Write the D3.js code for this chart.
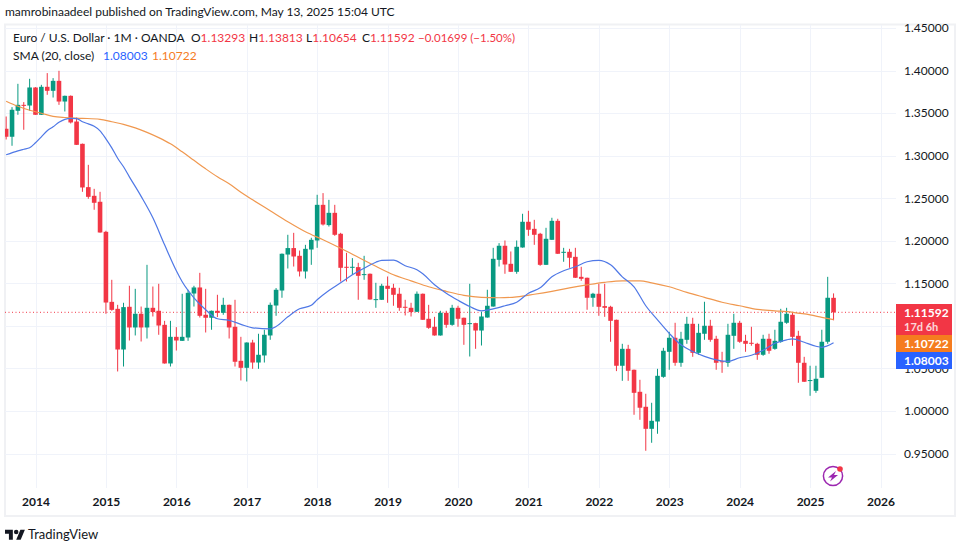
<!DOCTYPE html>
<html><head><meta charset="utf-8">
<script src="https://cdn.jsdelivr.net/npm/d3@7/dist/d3.min.js"></script>
<style>
html,body{margin:0;padding:0;background:#fff}
svg{display:block}
text{font-family:"Lato","Noto Sans",sans-serif}
</style></head><body><svg id="c" width="962" height="545"></svg>
<script>
// Monthly candles, Aug 2013 .. May 2025
const firstMonthOffset = -5; // months from Jan 2014
const opens = [1.3316,1.3222,1.3527,1.3597,1.3589,
1.3801,1.3480,1.3809,1.3762,1.3879,1.3636,1.3703,1.3401,1.3139,1.2630,1.2528,1.2458,
1.2105,1.1282,1.1200,1.0722,1.1224,1.0981,1.1142,1.0981,1.1212,1.1177,1.1012,1.0558,
1.0871,1.0824,1.0863,1.1380,1.1451,1.1130,1.1095,1.1177,1.1153,1.1247,1.0989,1.0589,
1.0507,1.0804,1.0569,1.0652,1.0887,1.1239,1.1415,1.1838,1.1914,1.1823,1.1639,1.1897,
1.2003,1.2422,1.2184,1.2328,1.2082,1.1694,1.1687,1.1690,1.1600,1.1612,1.1306,1.1306,
1.1471,1.1447,1.1377,1.1224,1.1212,1.1165,1.1377,1.1083,1.0989,1.0887,1.1153,1.1012,
1.1212,1.1095,1.1024,1.1032,1.0945,1.1098,1.1227,1.1776,1.1941,1.1729,1.1635,1.1921,
1.2223,1.2140,1.2082,1.1717,1.2011,1.2234,1.1858,1.1870,1.1811,1.1576,1.1565,1.1330,
1.1377,1.1232,1.1224,1.1071,1.0531,1.0730,1.0484,1.0225,1.0049,0.9790,0.9876,1.0401,
1.0695,1.0860,1.0566,1.0836,1.1024,1.0683,1.0907,1.1001,1.0848,1.0584,1.0566,1.0883,
1.1036,1.0824,1.0801,1.0789,1.0660,1.0848,1.0730,1.0813,1.1036,1.1130,1.0883,1.0566,
1.0354,1.0237,1.0390,1.0813,1.13293];
const highs = [1.3460,1.3570,1.3844,1.3629,1.3903,
1.3805,1.3832,1.3970,1.3911,1.3997,1.3705,1.3708,1.3448,1.3142,1.2892,1.2610,1.2575,
1.2117,1.1541,1.1247,1.1271,1.1471,1.1435,1.1227,1.1717,1.1462,1.1494,1.1059,1.1059,
1.0985,1.1377,1.1424,1.1471,1.1623,1.1435,1.1180,1.1365,1.1330,1.1250,1.1306,1.0871,
1.0806,1.0836,1.0907,1.0954,1.1274,1.1444,1.1850,1.2070,1.2093,1.1885,1.1952,1.2035,
1.2540,1.2560,1.2481,1.2422,1.2093,1.1858,1.1796,1.1741,1.1823,1.1615,1.1506,1.1494,
1.1580,1.1494,1.1447,1.1306,1.1271,1.1404,1.1380,1.1247,1.1106,1.1177,1.1177,1.1247,
1.1236,1.1097,1.1494,1.1036,1.1165,1.1424,1.1917,1.1972,1.2003,1.1874,1.2003,1.2317,
1.2352,1.2246,1.2093,1.2152,1.2270,1.2258,1.1917,1.1905,1.1917,1.1694,1.1567,1.1388,
1.1494,1.1494,1.1236,1.1073,1.0789,1.0777,1.0486,1.0366,1.0202,1.0096,1.0495,1.0742,
1.0930,1.1036,1.0930,1.1106,1.1095,1.1024,1.1283,1.1071,1.0883,1.0695,1.1024,1.1142,
1.1059,1.0895,1.0989,1.0801,1.0895,1.0907,1.0954,1.1200,1.1212,1.1165,1.0942,1.0636,
1.0531,1.0531,1.0954,1.1576,1.13813];
const lows = [1.3190,1.3116,1.3480,1.3304,1.3527,
1.3480,1.3478,1.3715,1.3683,1.3597,1.3519,1.3378,1.3125,1.2575,1.2493,1.2364,1.2095,
1.1142,1.1177,1.0464,1.0522,1.0828,1.0887,1.0816,1.0851,1.1110,1.0895,1.0556,1.0522,
1.0710,1.0822,1.0824,1.1227,1.1098,1.0922,1.0954,1.1103,1.1130,1.0851,1.0522,1.0358,
1.0346,1.0495,1.0495,1.0569,1.0836,1.1118,1.1330,1.1674,1.1697,1.1580,1.1556,1.1717,
1.1917,1.2179,1.2167,1.2058,1.1521,1.1521,1.1600,1.1306,1.1541,1.1308,1.1212,1.1304,
1.1271,1.1236,1.1177,1.1122,1.1110,1.1163,1.1069,1.0965,1.0885,1.0885,1.0977,1.1001,
1.0989,1.0777,1.0640,1.0730,1.0769,1.1096,1.1225,1.1697,1.1612,1.1633,1.1612,1.1919,
1.2058,1.1952,1.1706,1.1715,1.2009,1.1845,1.1753,1.1682,1.1563,1.1529,1.1189,1.1224,
1.1118,1.1106,1.0813,1.0468,1.0354,1.0354,0.9955,0.9896,0.9532,0.9626,0.9732,1.0390,
1.0484,1.0531,1.0519,1.0789,1.0636,1.0660,1.0836,1.0813,1.0484,1.0448,1.0519,1.0730,
1.0801,1.0695,1.0766,1.0601,1.0648,1.0672,1.0719,1.0801,1.1024,1.0766,1.0331,1.0341,
1.0178,1.0213,1.0388,1.0789,1.10654];
const closes = [1.3222,1.3539,1.3597,1.3590,1.3801,
1.3480,1.3809,1.3762,1.3879,1.3636,1.3703,1.3390,1.3127,1.2626,1.2516,1.2446,1.2097,
1.1274,1.1188,1.0722,1.1220,1.0981,1.1142,1.0981,1.1212,1.1162,1.1004,1.0558,1.0871,
1.0828,1.0871,1.1388,1.1451,1.1118,1.1095,1.1177,1.1153,1.1247,1.0981,1.0578,1.0507,
1.0804,1.0569,1.0660,1.0895,1.1247,1.1424,1.1847,1.1914,1.1815,1.1639,1.1905,1.2011,
1.2422,1.2191,1.2328,1.2070,1.1682,1.1686,1.1694,1.1588,1.1608,1.1310,1.1314,1.1471,
1.1435,1.1365,1.1212,1.1218,1.1162,1.1377,1.1071,1.0977,1.0887,1.1153,1.1012,1.1212,
1.1083,1.1012,1.1032,1.0945,1.1110,1.1236,1.1788,1.1941,1.1721,1.1635,1.1929,1.2223,
1.2129,1.2070,1.1717,1.2023,1.2234,1.1847,1.1870,1.1800,1.1565,1.1553,1.1330,1.1377,
1.1224,1.1212,1.1059,1.0531,1.0730,1.0472,1.0213,1.0038,0.9790,0.9884,1.0413,1.0707,
1.0860,1.0566,1.0848,1.1024,1.0683,1.0918,1.1001,1.0836,1.0566,1.0572,1.0895,1.1036,
1.0813,1.0789,1.0789,1.0660,1.0848,1.0707,1.0824,1.1048,1.1142,1.0871,1.0566,1.0343,
1.0363,1.0378,1.0813,1.1330,1.11592];

// SMA readings: month offset from Jan 2014 and value
const blueMonths = [-5,-3,-2,-1,0,1,2,3,4,5,6,7,8,9,10,11,12,13,14,15,16,18,20,22,24,25,27,29,31,33,35,37,40,41,43,45,47,48,50,52,54,56,58,59,61,63,65,66,68,70,72,74,76,78,80,82,84,86,88,90,92,94,96,98,100,102,104,106,108,110,112,114,116,118,120,122,124,126,128,129,131,133,134,136];
const blueValues = [1.3010,1.3057,1.3075,1.3092,1.3151,1.3221,1.3292,1.3339,1.3392,1.3427,1.3439,1.3436,1.3398,1.3374,1.3345,1.3292,1.3198,1.3092,1.2969,1.2869,1.2751,1.2522,1.2270,1.1952,1.1647,1.1518,1.1330,1.1189,1.1083,1.1065,1.1018,1.0977,1.0965,1.0992,1.1106,1.1200,1.1241,1.1306,1.1415,1.1506,1.1600,1.1676,1.1747,1.1770,1.1773,1.1706,1.1659,1.1612,1.1482,1.1382,1.1300,1.1227,1.1177,1.1200,1.1236,1.1277,1.1382,1.1447,1.1576,1.1647,1.1694,1.1753,1.1770,1.1717,1.1576,1.1459,1.1236,1.1071,1.0912,1.0777,1.0699,1.0642,1.0601,1.0583,1.0625,1.0654,1.0713,1.0795,1.0836,1.0848,1.0807,1.0760,1.0748,1.08003];
const orangeMonths = [-5,-3,-1,1,3,5,8,11,13,15,17,19,21,23,25,27,29,31,33,35,37,40,43,46,49,52,55,58,61,64,67,70,73,76,79,82,85,88,91,94,97,100,103,105,108,111,114,117,120,123,126,129,132,134,136];
const orangeValues = [1.3639,1.3580,1.3533,1.3498,1.3462,1.3448,1.3439,1.3427,1.3398,1.3368,1.3327,1.3274,1.3212,1.3139,1.3045,1.2945,1.2845,1.2751,1.2669,1.2569,1.2481,1.2352,1.2223,1.2105,1.2011,1.1911,1.1806,1.1700,1.1600,1.1529,1.1459,1.1406,1.1359,1.1335,1.1330,1.1341,1.1371,1.1406,1.1447,1.1482,1.1512,1.1529,1.1529,1.1506,1.1459,1.1394,1.1335,1.1277,1.1236,1.1194,1.1177,1.1159,1.1130,1.1100,1.10722];

const yearLabels = [2014,2015,2016,2017,2018,2019,2020,2021,2022,2023,2024,2025,2026];
const priceTicks = [0.95,1.00,1.05,1.10,1.15,1.20,1.25,1.30,1.35,1.40,1.45];
const hiddenPriceLabels = [1.10]; // covered by the price badges
const lastPrice = 1.11592, smaSlow = 1.10722, smaFast = 1.08003;
const ohlcLabels = ["O","H","L","C"];
const ohlcTexts = ["1.13293","1.13813","1.10654","1.11592"];
const changeText = "−0.01699 (−1.50%)";

const RED="#f23645", GREEN="#089981", BLUE="#2962ff", ORANGE="#f57c1f", INK="#131722";
const FONT='"Lato","Noto Sans",sans-serif';
const svg = d3.select("#c");
const x = d3.scaleLinear().domain([0,144]).range([35.5,880.5]);
const y = d3.scaleLinear().domain([0.95,1.45]).range([453.5,28]);
const L=5,R=896,T=25,B=488;

// frame
svg.append("rect").attr("x",5).attr("y",24.5).attr("width",950).attr("height",491.5)
  .attr("fill","#fff").attr("stroke","#f0f1f4").attr("stroke-width",2);

// grid
const grid = svg.append("g");
grid.selectAll("line.h").data(priceTicks).join("line").attr("x1",L).attr("x2",R)
  .attr("y1",d=>Math.round(y(d))+.5).attr("y2",d=>Math.round(y(d))+.5).attr("stroke","#f0f3fa");
grid.selectAll("line.v").data(yearLabels).join("line")
  .attr("x1",d=>Math.round(x((d-2014)*12))+.5).attr("x2",d=>Math.round(x((d-2014)*12))+.5)
  .attr("y1",T).attr("y2",B).attr("stroke","#f0f3fa");

svg.append("defs").append("clipPath").attr("id","plot").append("rect")
  .attr("x",L).attr("y",T).attr("width",R-L).attr("height",B-T);
const plot = svg.append("g").attr("clip-path","url(#plot)");

// price line
plot.append("line").attr("x1",L).attr("x2",R).attr("y1",y(lastPrice)).attr("y2",y(lastPrice))
  .attr("stroke",RED).attr("stroke-width",1).attr("stroke-dasharray","1 2.5");

// candles
const candles = opens.map((o,i)=>({m:i+firstMonthOffset,o,h:highs[i],l:lows[i],c:closes[i]}));
const bw = 4.6;
const col = d=>d.c>=d.o?GREEN:RED;
plot.selectAll("line.w").data(candles).join("line").attr("class","w")
  .attr("x1",d=>x(d.m)).attr("x2",d=>x(d.m)).attr("y1",d=>y(d.h)).attr("y2",d=>y(d.l))
  .attr("stroke",col).attr("stroke-width",1);
plot.selectAll("rect.b").data(candles).join("rect").attr("class","b")
  .attr("x",d=>x(d.m)-bw/2).attr("width",bw)
  .attr("y",d=>y(Math.max(d.o,d.c))).attr("height",d=>Math.max(1,Math.abs(y(d.o)-y(d.c))))
  .attr("fill",col);

// SMA lines
const line = d3.line().x(d=>x(d[0])).y(d=>y(d[1])).curve(d3.curveMonotoneX);
plot.append("path").datum(d3.zip(orangeMonths,orangeValues)).attr("d",line)
  .attr("fill","none").attr("stroke","#f0984f").attr("stroke-width",1.2);
plot.append("path").datum(d3.zip(blueMonths,blueValues)).attr("d",line)
  .attr("fill","none").attr("stroke","#4f78e6").attr("stroke-width",1.2);

// axes
const yAxis = d3.axisRight(y).tickValues(priceTicks.filter(d=>!hiddenPriceLabels.includes(d)))
  .tickSize(0).tickPadding(0).tickFormat(d3.format(".5f"));
const ya = svg.append("g").attr("transform","translate(904,0)").call(yAxis);
ya.select(".domain").remove();
ya.selectAll("text").attr("fill",INK).style("font-size","12px").style("font-family",FONT);
const xAxis = d3.axisBottom(x).tickValues(yearLabels.map(d=>(d-2014)*12)).tickSize(0).tickPadding(0)
  .tickFormat(d=>String(2014+d/12));
const xa = svg.append("g").attr("transform","translate(0,497)").call(xAxis);
xa.select(".domain").remove();
xa.selectAll("text").attr("fill",INK).style("font-size","12px").style("font-weight",700).style("font-family",FONT);

// price badges
const badge=(yt,h,c)=>svg.append("rect").attr("x",896).attr("y",yt).attr("width",56).attr("height",h).attr("fill",c);
badge(304,31,RED); badge(335,17,ORANGE); badge(352,17,BLUE);
const bt=(t,yy,o,s)=>svg.append("text").attr("x",904).attr("y",yy).attr("fill","#fff").attr("opacity",o)
  .attr("font-size",s).attr("font-weight",700).text(t);
bt(d3.format(".5f")(lastPrice),316.5,1,12); bt("17d 6h",331,.8,11);
bt(d3.format(".5f")(smaSlow),347.5,1,12); bt(d3.format(".5f")(smaFast),364.5,1,12);

// header
svg.append("text").attr("x",5).attr("y",16).attr("fill",INK).attr("font-size",12)
  .text("mamrobinaadeel published on TradingView.com, May 13, 2025 15:04 UTC");

// legend
const LF=12;
svg.append("text").attr("x",13).attr("y",42).attr("font-size",LF).attr("fill",INK)
  .text("Euro / U.S. Dollar · 1M · OANDA");
const ohlcX=[191,249,306,362];
ohlcLabels.forEach((k,i)=>{
  const t=svg.append("text").attr("x",ohlcX[i]).attr("y",42).attr("font-size",LF).attr("fill",INK);
  t.append("tspan").text(k);
  t.append("tspan").attr("fill",RED).text(ohlcTexts[i]);
});
svg.append("text").attr("x",418).attr("y",42).attr("font-size",LF).attr("fill",RED)
  .attr("textLength",97).attr("lengthAdjust","spacingAndGlyphs").text(changeText);
svg.append("text").attr("x",13).attr("y",60).attr("font-size",LF).attr("fill",INK).text("SMA (20, close)");
svg.append("text").attr("x",103).attr("y",60).attr("font-size",LF).attr("fill","#2962ff").text(d3.format(".5f")(smaFast));
svg.append("text").attr("x",152).attr("y",60).attr("font-size",LF).attr("fill",ORANGE).text(d3.format(".5f")(smaSlow));

// flash icon
const ic = svg.append("g").attr("transform","translate(833,476)");
ic.append("circle").attr("r",9.6).attr("fill","none").attr("stroke","#9c27b0").attr("stroke-width",1.5);
ic.append("path").attr("d","M3 -5 L-5 1.5 L-1 1.5 L-3 5.5 L5 -1 L1 -1 Z").attr("fill","#9c27b0");
ic.append("circle").attr("cx",7).attr("cy",-7).attr("r",2.8).attr("fill",RED);

// brand
const logo = svg.append("g").attr("transform","translate(5,527.5) scale(0.56)").attr("fill",INK);
logo.append("path").attr("d","M14 22H7V11H0V4h14v18zM28 22h-8l7.5-18h8L28 22z");
logo.append("circle").attr("cx",20).attr("cy",8).attr("r",4);
svg.append("text").attr("x",28).attr("y",539).attr("font-size",13).attr("fill",INK).text("TradingView");
</script></body></html>
